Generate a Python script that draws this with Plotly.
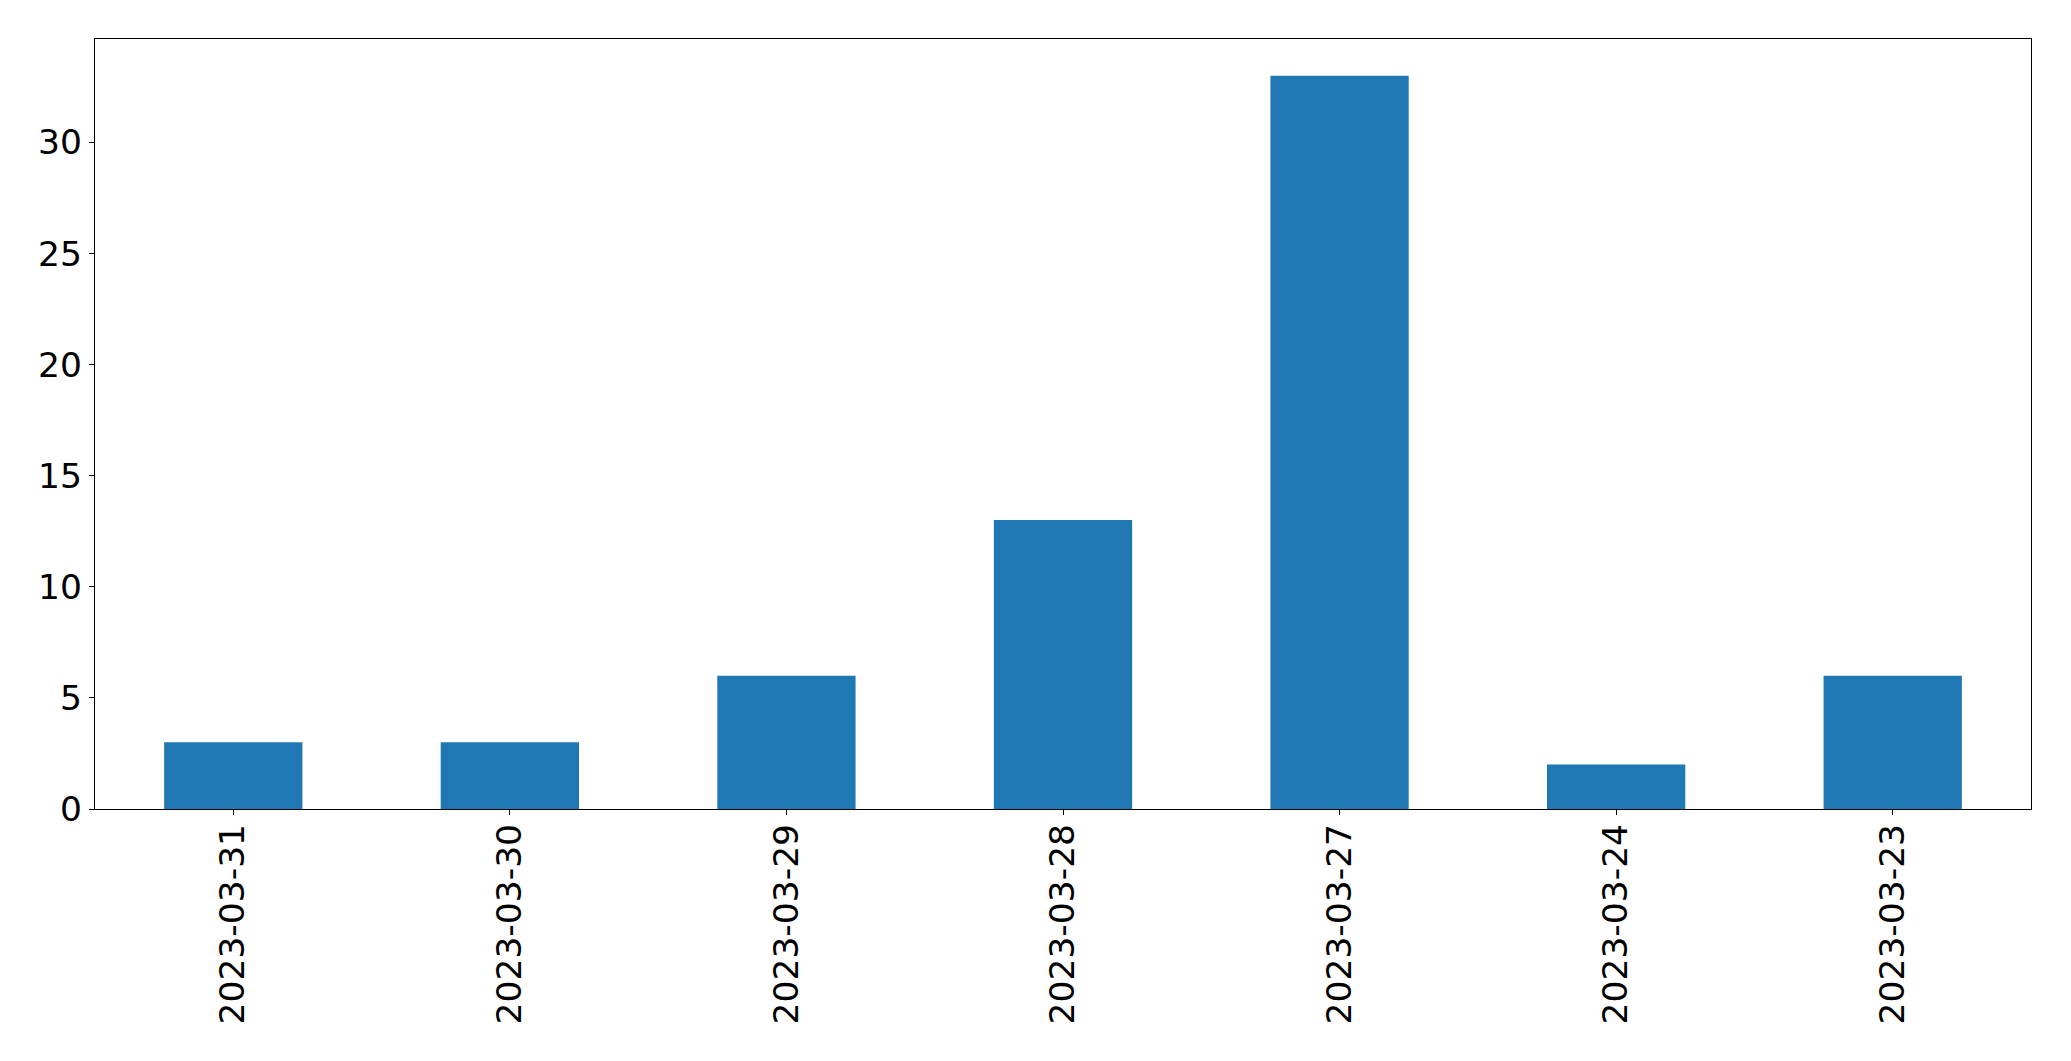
import plotly.graph_objects as go

dates = ["2023-03-31", "2023-03-30", "2023-03-29", "2023-03-28", "2023-03-27", "2023-03-24", "2023-03-23"]
counts = [3, 3, 6, 13, 33, 2, 6]
y_ticks = [0, 5, 10, 15, 20, 25, 30]

fig = go.Figure(go.Bar(x=dates, y=counts, marker=dict(color="#1f77b4", line=dict(width=0)), width=0.5))

font = dict(family="DejaVu Sans", size=34.5, color="black")
fig.update_layout(
    width=2071, height=1061,
    margin=dict(l=87, r=48, t=31, b=260, pad=0),
    paper_bgcolor="white", plot_bgcolor="white",
    showlegend=False,
    font=font,
    bargap=0.5,
)
fig.update_xaxes(
    type="category", range=[-0.5, 6.5], tickangle=-90,
    showline=True, linecolor="black", linewidth=1.3, mirror=True,
    ticks="outside", ticklen=5, tickwidth=1.3, tickcolor="black",
    showgrid=False, zeroline=False, tickfont=font, ticklabelstandoff=-5,
)
fig.update_yaxes(
    range=[0, 34.65], tickvals=y_ticks,
    showline=True, linecolor="black", linewidth=1.3, mirror=True,
    ticks="outside", ticklen=5, tickwidth=1.3, tickcolor="black",
    showgrid=False, zeroline=False, tickfont=font,
)
fig.write_html("out.html")
